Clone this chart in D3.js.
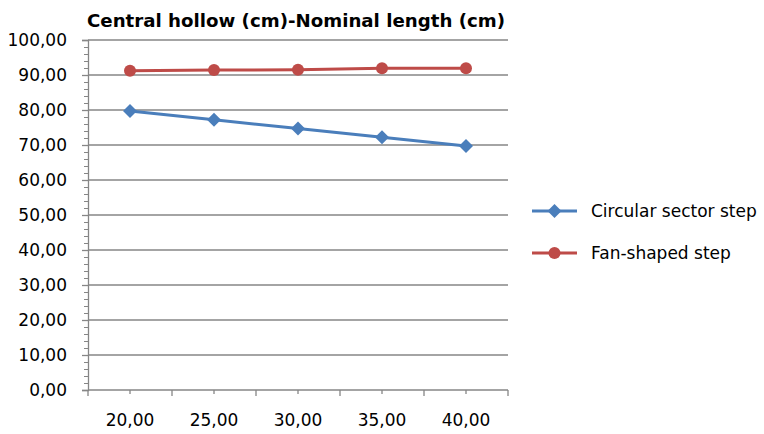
<!DOCTYPE html>
<html><head><meta charset="utf-8">
<script src="https://cdn.jsdelivr.net/npm/d3@7"></script>
<style>body{margin:0;background:#fff;} svg{display:block;}</style>
</head><body>
<svg id="chart" width="764" height="434"></svg>
<script>
const title = "Central hollow (cm)-Nominal length (cm)";
const categories = ["20,00", "25,00", "30,00", "35,00", "40,00"];
const circularSector = [79.7, 77.2, 74.7, 72.2, 69.7];
const fanShaped = [91.2, 91.4, 91.5, 91.9, 91.9];
const seriesNames = ["Circular sector step", "Fan-shaped step"];
const yTicks = [0, 10, 20, 30, 40, 50, 60, 70, 80, 90, 100];

(function () {
const svg = d3.select("#chart");
const font = "'DejaVu Sans', sans-serif";
const pLeft = 88, pRight = 508, pTop = 40, pBottom = 390;
const grey = "#868686";

const x = d3.scaleBand().domain(categories).range([pLeft, pRight]);
const y = d3.scaleLinear().domain([0, 100]).range([pBottom, pTop]);
const fmt = v => d3.format(".2f")(v).replace(".", ",");

// gridlines
svg.append("g").selectAll("line").data(yTicks.filter(d => d > 0)).join("line")
  .attr("x1", pLeft).attr("x2", pRight)
  .attr("y1", d => y(d)).attr("y2", d => y(d))
  .attr("stroke", grey).attr("stroke-width", 1.3);

// y axis
const yAxis = svg.append("g").attr("transform", `translate(${pLeft},0)`)
  .call(d3.axisLeft(y).tickValues(yTicks).tickSize(6).tickPadding(15).tickFormat(fmt));
yAxis.select(".domain").attr("stroke", grey).attr("stroke-width", 1.3);
yAxis.selectAll(".tick line").attr("stroke", grey).attr("stroke-width", 1.3);
yAxis.selectAll("text").attr("font-family", font).attr("font-size", 17).attr("fill", "#000");
// minor y ticks
svg.append("g").attr("transform", `translate(${pLeft},0)`)
  .call(d3.axisLeft(y).tickValues(d3.range(0, 101, 2).filter(d => d % 10 !== 0)).tickSize(4).tickFormat(""))
  .call(g => g.select(".domain").remove())
  .selectAll("line").attr("stroke", grey).attr("stroke-width", 1);

// x axis
const xAxis = svg.append("g").attr("transform", `translate(0,${pBottom})`)
  .call(d3.axisBottom(x).tickSize(0).tickPadding(24));
xAxis.select(".domain").attr("stroke", grey).attr("stroke-width", 1.3).attr("d", `M${pLeft},0H${pRight}`);
xAxis.selectAll("text").attr("font-family", font).attr("font-size", 17).attr("fill", "#000");
const bounds = categories.map(c => x(c)).concat([pRight]);
svg.append("g").selectAll("line").data(bounds).join("line")
  .attr("x1", d => d).attr("x2", d => d).attr("y1", pBottom).attr("y2", pBottom + 6)
  .attr("stroke", grey).attr("stroke-width", 1.3);
svg.append("g").selectAll("line").data(categories).join("line")
  .attr("x1", d => x(d) + x.bandwidth() / 2).attr("x2", d => x(d) + x.bandwidth() / 2)
  .attr("y1", pBottom).attr("y2", pBottom + 4)
  .attr("stroke", grey).attr("stroke-width", 1.3);

const cx = c => x(c) + x.bandwidth() / 2;
const line = d3.line().x((d, i) => cx(categories[i])).y(d => y(d));

const blue = "#4a7ebb", red = "#be4b48";
const diamond = d3.symbol().type(d3.symbolDiamond2).size(125);
svg.append("path").datum(circularSector).attr("d", line).attr("fill", "none")
  .attr("stroke", blue).attr("stroke-width", 3);
svg.append("g").selectAll("path").data(circularSector).join("path")
  .attr("d", diamond).attr("transform", (d, i) => `translate(${cx(categories[i])},${y(d)})`)
  .attr("fill", blue);
svg.append("path").datum(fanShaped).attr("d", line).attr("fill", "none")
  .attr("stroke", red).attr("stroke-width", 3);
svg.append("g").selectAll("circle").data(fanShaped).join("circle")
  .attr("cx", (d, i) => cx(categories[i])).attr("cy", d => y(d)).attr("r", 6)
  .attr("fill", red);

svg.append("text").attr("x", 296).attr("y", 27).attr("text-anchor", "middle")
  .attr("font-family", font).attr("font-weight", "bold").attr("font-size", 18)
  .attr("textLength", 418).attr("lengthAdjust", "spacingAndGlyphs")
  .attr("fill", "#000").text(title);

const legend = svg.append("g");
const legendData = [{name: seriesNames[0], color: blue, type: "diamond", ly: 211},
                    {name: seriesNames[1], color: red, type: "circle", ly: 253}];
legendData.forEach(d => {
  legend.append("line").attr("x1", 532).attr("x2", 577).attr("y1", d.ly).attr("y2", d.ly)
    .attr("stroke", d.color).attr("stroke-width", 3);
  if (d.type === "diamond") {
    legend.append("path").attr("d", diamond).attr("transform", `translate(554.5,${d.ly})`).attr("fill", d.color);
  } else {
    legend.append("circle").attr("cx", 554.5).attr("cy", d.ly).attr("r", 6).attr("fill", d.color);
  }
  legend.append("text").attr("x", 591).attr("y", d.ly).attr("dy", "0.35em")
    .attr("font-family", font).attr("font-size", 17).attr("fill", "#000").text(d.name);
});
})();
</script>
</body></html>
